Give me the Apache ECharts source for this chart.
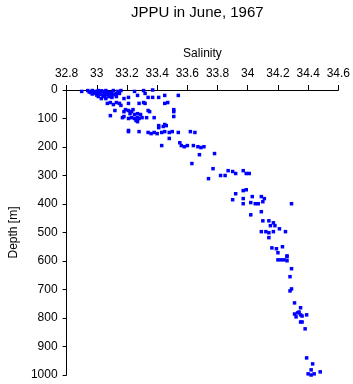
<!DOCTYPE html>
<html>
<head>
<meta charset="utf-8">
<script src="https://cdn.jsdelivr.net/npm/echarts@6/dist/echarts.min.js"></script>
<style>
  html, body { margin: 0; padding: 0; background: #fff; }
  #chart { width: 353px; height: 384px; }
</style>
</head>
<body>
<div id="chart"></div>
<script>
// salinity ticks on the top axis, depth ticks on the left axis
const salinityTicks = [32.8, 33, 33.2, 33.4, 33.6, 33.8, 34, 34.2, 34.4, 34.6]
const depthTicks = [0, 100, 200, 300, 400, 500, 600, 700, 800, 900, 1000]

// salinity readings (psu) and their depths (m)
const salinity = [
  32.90, 32.94, 32.96, 32.97, 32.98, 32.99, 33.01, 33.02, 33.04, 33.05,
  33.06, 33.08, 33.11, 33.13, 33.14, 33.16, 33.25, 33.31, 33.32, 33.37,
  32.95, 32.97, 33.00, 33.02, 33.03, 33.07, 33.09, 33.10, 33.12, 33.00,
  33.04, 33.07, 33.10, 32.99, 33.15,
  33.01, 33.03, 33.05, 33.06, 33.08, 33.10, 33.13, 33.18, 33.21, 33.27,
  33.34, 33.37, 33.41, 33.45, 33.54,
  33.07, 33.09, 33.11, 33.13, 33.15, 33.16, 33.21, 33.28, 33.31, 33.32,
  33.45, 33.47,
  33.12, 33.18, 33.19, 33.21, 33.23, 33.24, 33.22, 33.25, 33.27, 33.29,
  33.34, 33.35, 33.51, 33.51, 33.09,
  33.17, 33.18, 33.21, 33.23, 33.25, 33.27, 33.28, 33.30, 33.33, 33.38,
  33.51, 33.27, 33.26,
  33.41, 33.45, 33.41, 33.44, 33.46, 33.21, 33.21, 33.28, 33.34, 33.36,
  33.38, 33.40, 33.43, 33.45, 33.48, 33.50, 33.54, 33.62, 33.65,
  33.48, 33.55, 33.43, 33.56, 33.58, 33.60, 33.64, 33.67, 33.69, 33.71,
  33.68, 33.78,
  33.63, 33.77, 33.87, 33.90, 33.92, 33.97, 33.99, 34.01, 33.82, 33.85,
  33.74,
  33.99, 33.97, 33.92, 33.90, 33.97, 33.97, 34.02, 34.03, 34.09, 34.11,
  34.10, 34.05, 34.07, 34.29,
  34.09, 34.02, 34.10, 34.14, 34.17, 34.15, 34.18, 34.21, 34.09, 34.12,
  34.14, 34.17, 34.25, 34.14,
  34.16, 34.19, 34.23, 34.20, 34.26, 34.26, 34.20, 34.22, 34.24, 34.26,
  34.29, 34.28, 34.29, 34.28, 34.31, 34.35, 34.31, 34.33, 34.34, 34.35,
  34.36, 34.39, 34.32, 34.35, 34.36, 34.38,
  34.39, 34.43, 34.42, 34.48, 34.40, 34.42, 34.44
]
const depth = [
  5, 2, 9, 2, 12, 5, 2, 9, 5, 12,
  2, 9, 2, 12, 5, 2, 5, 2, 12, 0,
  7, 14, 8, 15, 3, 6, 14, 9, 16, 18,
  18, 17, 20, 10, 12,
  23, 30, 23, 30, 23, 26, 23, 30, 26, 19,
  26, 26, 26, 19, 19,
  47, 44, 51, 44, 47, 54, 47, 47, 44, 47,
  47, 44,
  72, 76, 69, 72, 76, 69, 83, 86, 83, 86,
  72, 76, 69, 76, 90,
  97, 93, 100, 97, 100, 97, 100, 97, 97, 97,
  93, 111, 107,
  125, 121, 132, 128, 125, 142, 146, 146, 149, 153,
  149, 153, 149, 146, 149, 146, 149, 146, 149,
  170, 185, 195, 195, 199, 195, 195, 199, 202, 199,
  227, 223,
  258, 276, 283, 286, 293, 283, 293, 293, 300, 300,
  311,
  350, 353, 364, 385, 381, 399, 395, 374, 374, 381,
  392, 399, 399, 399,
  427, 438, 459, 459, 466, 476, 476, 487, 497, 497,
  501, 497, 497, 518,
  554, 557, 550, 571, 582, 585, 596, 596, 596, 599,
  627, 655, 698, 705, 747, 764, 786, 782, 779, 789,
  793, 789, 796, 814, 814, 838,
  940, 961, 982, 989, 996, 1000, 996
]

const points = salinity.map((s, i) => [s, depth[i]])

const font = 'Liberation Sans, Arial, Helvetica, sans-serif'

const option = {
  backgroundColor: '#fff',
  animation: false,
  title: {
    text: 'JPPU in June, 1967',
    left: 126,
    top: 0,
    textStyle: {
      fontFamily: font,
      fontSize: 15,
      fontWeight: 'normal',
      color: '#000'
    }
  },
  grid: {
    left: 52,
    right: 14,
    top: 90,
    bottom: 9
  },
  xAxis: {
    type: 'value',
    position: 'top',
    name: 'Salinity',
    nameLocation: 'middle',
    nameGap: 30,
    nameTextStyle: { fontFamily: font, fontSize: 12, color: '#000' },
    min: salinityTicks[0],
    max: salinityTicks[salinityTicks.length - 1],
    interval: 0.2,
    axisLine: { onZero: false, lineStyle: { color: '#000', width: 1 } },
    axisTick: { show: true, inside: false, length: 5, lineStyle: { color: '#000' } },
    axisLabel: {
      fontFamily: font,
      fontSize: 12,
      color: '#000',
      margin: 10,
      formatter: v => String(Math.round(v * 10) / 10)
    },
    splitLine: { show: false }
  },
  yAxis: {
    type: 'value',
    inverse: true,
    name: 'Depth [m]',
    nameLocation: 'middle',
    nameGap: 40,
    nameTextStyle: { fontFamily: font, fontSize: 12, color: '#000' },
    min: depthTicks[0],
    max: depthTicks[depthTicks.length - 1],
    interval: 100,
    axisLine: { show: true, onZero: false, lineStyle: { color: '#000', width: 1 } },
    axisTick: { show: true, inside: false, length: 4, lineStyle: { color: '#000' } },
    axisLabel: {
      fontFamily: font,
      fontSize: 12,
      color: '#000',
      margin: 9,
      formatter: v => String(v)
    },
    splitLine: { show: false }
  },
  series: [
    {
      name: 'Salinity',
      type: 'scatter',
      data: points,
      symbol: 'rect',
      symbolSize: 3.5,
      itemStyle: { color: '#0000ff', opacity: 1 }
    }
  ]
}

const chart = echarts.init(document.getElementById('chart'))
chart.setOption(option)
</script>
</body>
</html>
